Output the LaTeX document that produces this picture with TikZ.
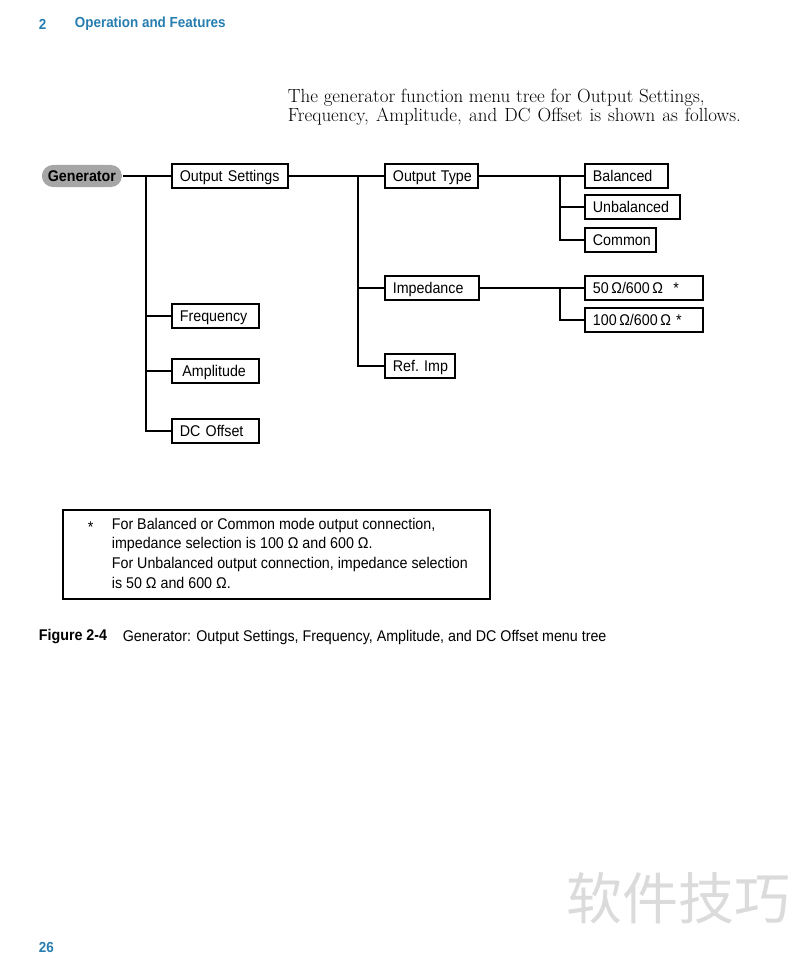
\documentclass[tikz,border=0pt]{standalone}
\usepackage{fontspec}
\setsansfont{Liberation Sans}[FakeStretch=0.92]
\newfontfamily\cjk{Noto Sans CJK SC}
\usetikzlibrary{positioning}
\definecolor{headblue}{RGB}{38,125,176}
\definecolor{pillgray}{RGB}{166,166,166}

\begin{document}
\begin{tikzpicture}[x=1pt,y=-1pt, line width=1.8pt,
	menu/.style={draw,rectangle,anchor=west,text width=#1,align=left,
		minimum height=24pt,inner xsep=8pt,inner ysep=0pt,
		text height=13pt,text depth=2pt,
		font=\sffamily\fontsize{15.5}{18}\selectfont},
	gen/.style={draw=none,fill=pillgray,rounded corners=11pt,anchor=west,
		minimum width=80pt,minimum height=22pt,inner sep=0pt,
		font=\sffamily\bfseries\fontsize{15.5}{18}\selectfont},
	head/.style={anchor=west,text=headblue,inner sep=0pt,
		font=\sffamily\bfseries\fontsize{14.6}{18}\selectfont},
	plain/.style={anchor=west,inner sep=0pt,font=\sffamily\fontsize{15.5}{19.7}\selectfont}]
	\useasboundingbox (0,0) rectangle (800,960);
	% page header
	\node[head] (chap) at (38,24) {2};
	\node[head] (chaptitle) at (74,24) {Operation and Features};
	\node[anchor=north west,inner sep=0pt,align=left,
		font=\fontsize{19}{19.2}\selectfont] (intro) at (287,88)
		{The generator function menu tree for Output Settings,\\
		\makebox[453pt][s]{Frequency, Amplitude, and DC Offset is shown as follows.}};
	% menu tree
	\node[gen] (gen) at (41,176) {Generator};
	\node[menu=100pt] (outset) at (171,176) {Output~Settings};
	\node[menu=71pt] (freq) at (171,316) {Frequency};
	\node[menu=71pt] (ampl) at (171,371) {\,Amplitude};
	\node[menu=71pt] (dcoff) at (171,431) {DC~Offset};
	\node[menu=77pt] (otype) at (384,176) {Output~Type};
	\node[menu=78pt] (imped) at (384,288) {Impedance};
	\node[menu=54pt] (refimp) at (384,366) {Ref.~Imp};
	\node[menu=67pt] (bal) at (584,176) {Balanced};
	\node[menu=79pt] (unbal) at (584,207) {Unbalanced};
	\node[menu=55pt] (common) at (584,240) {Common};
	\node[menu=102pt] (fifty) at (584,288) {50\,Ω/600\,Ω~~*};
	\node[menu=102pt] (hundred) at (584,320) {100\,Ω/600\,Ω~*};
	\coordinate (t1) at (146,176);
	\coordinate (t2) at (358,176);
	\coordinate (t3) at (560,176);
	\coordinate (t4) at (560,288);
	\draw (gen.east) -- (outset.west);
	\draw (t1) |- (dcoff.west);
	\draw (t1 |- freq.west) -- (freq.west);
	\draw (t1 |- ampl.west) -- (ampl.west);
	\draw (outset.east) -- (otype.west);
	\draw (t2) |- (refimp.west);
	\draw (t2 |- imped.west) -- (imped.west);
	\draw (otype.east) -- (bal.west);
	\draw (t3) |- (common.west);
	\draw (t3 |- unbal.west) -- (unbal.west);
	\draw (imped.east) -- (fifty.west);
	\draw (t4) |- (hundred.west);
	% footnote box
	\node[draw,anchor=north west,minimum width=427pt,minimum height=89pt,
		inner sep=0pt] (note) at (62,509) {};
	\node[plain] (star) at (87,527) {*};
	\node[anchor=north west,inner sep=0pt,align=left,
		font=\sffamily\fontsize{15.5}{19.7}\selectfont] (notetext) at (111,517)
		{For Balanced or Common mode output connection,\\
		impedance selection is 100 Ω and 600 Ω.\\
		For Unbalanced output connection, impedance selection\\
		is 50 Ω and 600 Ω.};
	% caption
	\node[plain,font=\sffamily\bfseries\fontsize{15.5}{18}\selectfont] (figno) at (38,637) {Figure 2-4};
	\node[plain] (caption) at (122,637)
		{Generator: Output Settings, Frequency, Amplitude, and DC Offset menu tree};
	% page number and mark
	\node[head] (pageno) at (38,947) {26};
	\node[anchor=west,inner sep=0pt,text=black!14,
		font=\cjk\fontsize{56}{60}\selectfont] (mark) at (566,898) {软件技巧};
\end{tikzpicture}
\end{document}
